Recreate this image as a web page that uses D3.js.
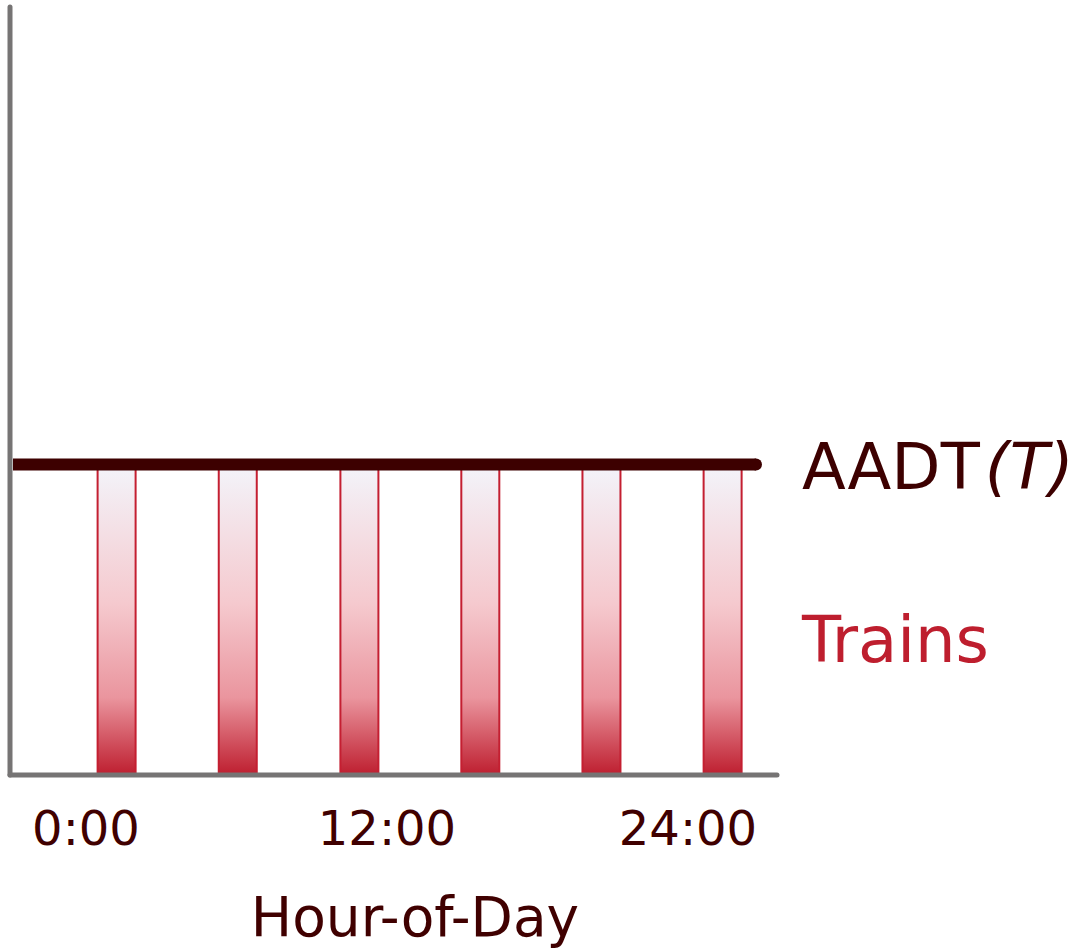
<!DOCTYPE html>
<html>
<head>
<meta charset="utf-8">
<script src="https://cdn.jsdelivr.net/npm/d3@7"></script>
<style>
  body { margin: 0; background: #fff; }
  text { font-family: "DejaVu Sans", Verdana, sans-serif; }
</style>
</head>
<body>
<svg id="chart"></svg>
<script>
// data
const tickHours = [0, 12, 24];
const tickLabels = ["0:00", "12:00", "24:00"];
const trainHours = [1.22, 6.05, 10.9, 15.72, 20.55, 25.38];
const trainLevel = [1, 1, 1, 1, 1, 1];
const aadtLevel = 1;

const width = 1084, height = 950;
const svg = d3.select("#chart").attr("width", width).attr("height", height);

const x = d3.scaleLinear().domain([0, 24]).range([86, 688]);
const y = d3.scaleLinear().domain([0, 2.48]).range([775, 5]);
const barW = 38;

const grad = svg.append("defs").append("linearGradient")
  .attr("id", "trainGrad")
  .attr("x1", 0).attr("y1", 0).attr("x2", 0).attr("y2", 1);
grad.append("stop").attr("offset", "0%").attr("stop-color", "#f3f4fa");
grad.append("stop").attr("offset", "45%").attr("stop-color", "#f5c9ce");
grad.append("stop").attr("offset", "75%").attr("stop-color", "#ea959e");
grad.append("stop").attr("offset", "100%").attr("stop-color", "#be1e2f");

// train bars
svg.append("g")
  .selectAll("rect")
  .data(trainHours)
  .join("rect")
  .attr("x", d => x(d) - barW / 2)
  .attr("y", (d, i) => y(trainLevel[i]))
  .attr("width", barW)
  .attr("height", (d, i) => y(0) - y(trainLevel[i]))
  .attr("fill", "url(#trainGrad)")
  .attr("stroke", "#c41f31")
  .attr("stroke-width", 2);

// axes
svg.append("line")
  .attr("x1", 10).attr("x2", 10)
  .attr("y1", y(0)).attr("y2", y.range()[1] + 2)
  .attr("stroke", "#767474").attr("stroke-width", 5)
  .attr("stroke-linecap", "round");
svg.append("line")
  .attr("x1", 10).attr("x2", 777)
  .attr("y1", y(0)).attr("y2", y(0))
  .attr("stroke", "#767474").attr("stroke-width", 5)
  .attr("stroke-linecap", "round");

// AADT line (butt at the axis, round at the right end)
svg.append("line")
  .attr("x1", 13).attr("x2", 756)
  .attr("y1", y(aadtLevel)).attr("y2", y(aadtLevel))
  .attr("stroke", "#3d0000").attr("stroke-width", 12);
svg.append("circle")
  .attr("cx", 756).attr("cy", y(aadtLevel)).attr("r", 6)
  .attr("fill", "#3d0000");

// tick labels
svg.append("g")
  .selectAll("text")
  .data(tickHours)
  .join("text")
  .attr("x", d => x(d))
  .attr("y", 845)
  .attr("text-anchor", "middle")
  .attr("font-size", 48)
  .attr("fill", "#400000")
  .text((d, i) => tickLabels[i]);

svg.append("text")
  .attr("x", 415).attr("y", 936)
  .attr("text-anchor", "middle")
  .attr("font-size", 55)
  .attr("fill", "#400000")
  .text("Hour-of-Day");

// labels
const aadt = svg.append("text")
  .attr("x", 802).attr("y", 489)
  .attr("font-size", 64)
  .attr("fill", "#3d0000");
aadt.append("tspan").text("AADT");
aadt.append("tspan").attr("dx", 5).attr("font-style", "italic").text("(T)");

svg.append("text")
  .attr("x", 802).attr("y", 662)
  .attr("font-size", 64)
  .attr("fill", "#be1e2e")
  .text("Trains");
</script>
</body>
</html>
